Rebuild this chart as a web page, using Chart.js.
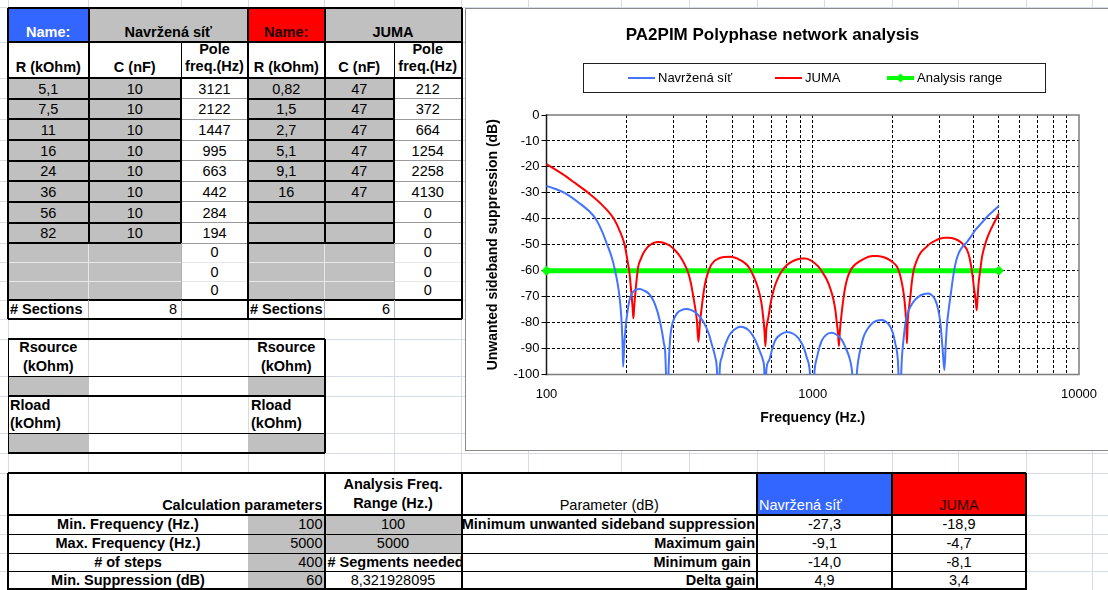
<!DOCTYPE html>
<html>
<head>
<meta charset="utf-8">
<title>PA2PIM Polyphase network analysis</title>
<script src="https://cdn.jsdelivr.net/npm/chart.js@4.4.1/dist/chart.umd.min.js"></script>
<style>
  html, body { margin: 0; padding: 0; background: #fff; }
  body {
    width: 1108px; height: 590px; overflow: hidden; position: relative;
    font-family: "Liberation Sans", Arial, sans-serif; font-size: 14.5px; color: #000;
  }
  #sheet { position: absolute; left: 0; top: 0; width: 1108px; height: 590px; }
  #chartBox {
    position: absolute; left: 465px; top: 8px; width: 646px; height: 443px;
    box-sizing: border-box; border: 1px solid #8a8a8a; background: #fff;
  }
  #chartWrap { position: absolute; left: 0; top: 0; width: 644px; height: 441px; }
</style>
</head>
<body>
<div id="sheet"></div>
<div id="chartBox"><div id="chartWrap"><canvas id="plot"></canvas></div></div>

<script>
// ---------------- data ----------------
// RC sections of the two networks
const navrR    = ['5,1', '7,5', '11', '16', '24', '36', '56', '82'];
const navrC    = ['10', '10', '10', '10', '10', '10', '10', '10'];
const navrPole = [3121, 2122, 1447, 995, 663, 442, 284, 194];
const jumaR    = ['0,82', '1,5', '2,7', '5,1', '9,1', '16'];
const jumaC    = ['47', '47', '47', '47', '47', '47'];
const jumaPole = [212, 372, 664, 1254, 2258, 4130];

// calculation parameters
const calcLabels  = ['Min. Frequency (Hz.)', 'Max. Frequency (Hz.)', '# of steps', 'Min. Suppression (dB)'];
const calcValues  = ['100', '5000', '400', '60'];
const rangeValues = ['100', '5000', '# Segments needed', '8,321928095'];

// results
const paramLabels = ['Minimum unwanted sideband suppression', 'Maximum gain', 'Minimum gain ', 'Delta gain'];
const navrResults = [-27.3, -9.1, -14.0, 4.9];
const jumaResults = [-18.9, -4.7, -8.1, 3.4];

// unwanted sideband suppression, Navržená síť (Hz / dB)
const navrFreq = [
  100, 108, 117, 133, 146, 153, 162, 169, 176, 181, 185, 188, 191, 193, 194,
  196, 199, 202, 205, 210, 215, 224, 233, 242, 252, 260, 266, 271, 276, 279, 284,
  289, 292, 297, 303, 310, 320, 335, 350, 365, 378, 392, 406, 418, 430, 436, 442,
  448, 456, 466, 476, 490, 504, 520, 534, 550, 574, 595, 616, 635, 650, 657, 663,
  670, 686, 705, 723, 760, 800, 845, 885, 923, 950, 972, 995,
  1018, 1038, 1060, 1083, 1130, 1180, 1235, 1288, 1330, 1370, 1400, 1440,
  1470, 1490, 1520, 1552, 1610, 1670, 1740, 1820, 1890, 1955, 2000, 2041, 2088, 2122,
  2163, 2195, 2228, 2270, 2326, 2400, 2500, 2600, 2723, 2810, 2887, 2960, 3016, 3076, 3121,
  3160, 3196, 3240, 3289, 3383, 3450, 3531, 3650, 3799, 3950, 4083, 4300, 4517, 4750, 5000
];
const navrDb = [
  -27.3, -28.5, -30, -34, -37.5, -40, -45, -50, -55, -60, -65, -70, -78, -88, -97,
  -88, -80, -75, -71.3, -68.5, -67.5, -67.1, -67.7, -68.8, -71.5, -75.2, -79, -83, -88, -91, -110,
  -92, -85, -80.5, -78, -76.3, -75.3, -74.8, -75.2, -76.3, -78, -80.5, -84, -88.5, -93.2, -97, -110,
  -97, -93.2, -89.5, -86.8, -84.3, -82.9, -82, -81.6, -81.8, -82.9, -85, -88, -91.5, -94.5, -97.5, -110,
  -98, -94.5, -90, -86.8, -84.5, -83.6, -84.3, -86.1, -89.4, -93.5, -97.5, -110,
  -97.5, -93.2, -89.5, -86.8, -84.5, -83.9, -84.8, -86.8, -89.8, -93.2, -97.5, -110,
  -97.5, -93.2, -89, -85.5, -82.3, -80.3, -79.3, -79, -79.8, -81.6, -84, -88, -94.5, -110,
  -93.2, -86, -80.3, -76.5, -73.9, -71.7, -70, -69.1, -68.8, -69.6, -71.3, -75, -80.3, -90.6, -98.3,
  -88, -80.3, -75, -70, -61, -56.5, -53.3, -50.8, -48.9, -46.5, -44.3, -41.7, -39.2, -37.1, -35.1
];

// unwanted sideband suppression, JUMA (Hz / dB)
const jumaFreq = [
  100, 104, 115, 126, 143.5, 163, 179, 189, 196.5, 201, 205, 208.5, 210.5, 212,
  213.5, 215, 218, 221, 226, 231, 238, 245, 254, 263, 275, 291, 305, 318, 330, 341, 349, 356, 362, 367, 372,
  377, 383, 389, 394, 402, 412, 425, 443, 465, 490, 512, 534, 555, 574, 592, 608, 622, 635, 645, 653, 659, 664,
  669, 675, 682, 692, 703, 720, 744, 770, 800, 835, 872, 910, 937, 979, 1015, 1052, 1090, 1131, 1165, 1197, 1217, 1232, 1245, 1254,
  1265, 1288, 1305, 1325, 1350, 1384, 1430, 1487, 1550, 1621, 1680, 1742, 1820, 1900, 1990, 2073, 2125, 2163, 2200, 2228, 2245, 2258,
  2275, 2300, 2326, 2355, 2393, 2460, 2535, 2650, 2765, 2890, 3016, 3130, 3242, 3420, 3585, 3700, 3800, 3880, 3937, 3990, 4027, 4080, 4110, 4130,
  4160, 4197, 4260, 4325, 4430, 4540, 4660, 4786, 4900, 5000
];
const jumaDb = [
  -18.9, -20, -22.8, -25.7, -30, -35, -40, -45, -50, -55.5, -61, -69, -74, -78.4,
  -74, -70, -63.5, -58.5, -55.5, -53.3, -51.3, -50.1, -49.2, -48.9, -49.2, -50.4, -52.3, -54.6, -57.5, -61, -65, -70, -74.5, -79, -87.4,
  -80, -74, -68.5, -65, -61.5, -58.5, -56.5, -55.3, -54.7, -54.6, -55, -55.9, -57, -58.5, -61, -63.6, -66.5, -70, -74, -79, -83.5, -89.1,
  -83, -80, -77.8, -73.5, -70, -66, -62.4, -59.8, -57.8, -56.5, -55.7, -55.3, -55.3, -55.9, -57, -58.5, -60.8, -63.6, -67, -71.3, -75.5, -80.3, -84.5, -89,
  -83, -75.2, -70.5, -66.2, -62.8, -60, -58, -56.6, -55.5, -54.6, -54.3, -54.3, -54.6, -55.3, -56.6, -58.5, -61.5, -64.9, -69.5, -75.2, -81, -88,
  -79, -74, -70, -64.5, -59.8, -56, -53.3, -51.2, -49.5, -48.4, -47.6, -47.3, -47.3, -47.8, -48.9, -50.3, -52.1, -55, -58.5, -62.5, -66.2, -70.5, -73.5, -75.2,
  -70.5, -64.9, -59.5, -54.6, -50.2, -46.9, -44.2, -41.8, -39.7, -37.9
];

// analysis range line
const rangeFreq = [100, 5000];
const rangeDb   = [-60, -60];

// frequency axis grid and labels
const xGridValues = [100, 200, 300, 400, 500, 600, 700, 800, 900,
                     1000, 2000, 3000, 4000, 5000, 6000, 7000, 8000, 9000, 10000];
const xLabelled   = [100, 1000, 10000];

// ---------------- worksheet ----------------
const BLUE_CELL = '#3366ff', RED_CELL = '#ff0000', GRAY = '#c0c0c0', GRIDLINE = '#d6dce6';
const sheet = document.getElementById('sheet');

function el(x0, y0, x1, y1, css) {
  const d = document.createElement('div');
  d.style.cssText = 'position:absolute;left:' + x0 + 'px;top:' + y0 + 'px;width:' + (x1 - x0) +
                    'px;height:' + (y1 - y0) + 'px;' + (css || '');
  sheet.appendChild(d);
  return d;
}
function fill(x0, y0, x1, y1, color) { el(x0, y0, x1, y1, 'background:' + color); }
function hl(x0, x1, y, w, c) { el(x0, y - w / 2, x1, y + w / 2, 'background:' + (c || '#000')); }
function vl(x, y0, y1, w, c) { el(x - w / 2, y0, x + w / 2, y1, 'background:' + (c || '#000')); }
function txt(x0, y0, x1, y1, s, o) {
  o = o || {};
  const d = el(x0, y0, x1, y1, 'display:flex;overflow:hidden;box-sizing:border-box;');
  d.style.alignItems = 'flex-end';
  d.style.justifyContent = o.a === 'left' ? 'flex-start' : (o.a === 'right' ? 'flex-end' : 'center');
  d.style.padding = '0 ' + (o.pr != null ? o.pr : 3) + 'px ' + (o.pb != null ? o.pb : 2) + 'px ' +
                    (o.pl != null ? o.pl : 3) + 'px';
  const sp = document.createElement('span');
  sp.textContent = s;
  sp.style.cssText = 'white-space:pre;flex-shrink:0;line-height:' + (o.lh || 16) + 'px;text-align:' +
                     (o.a || 'center') + ';font-weight:' + (o.b ? 'bold' : 'normal') + ';color:' + (o.c || '#000') + ';';
  d.appendChild(sp);
}
const dec = v => v.toFixed(1).replace('.', ',');

// spreadsheet gridlines
const GX = [8, 88.5, 181, 248, 324.5, 394, 461.5, 528, 621, 689, 757, 824, 892, 958, 1026, 1092];
const GY = [7.5, 42, 78, 98.5, 119, 140, 160.5, 181, 201.5, 222.5, 243, 262, 281.5, 300, 319,
            339, 376, 396, 433, 453, 473, 515, 534, 553, 571.5];
GX.forEach(x => vl(x, 0, 590, 1, GRIDLINE));
GY.forEach(y => hl(0, 1108, y, 1, GRIDLINE));

// ---- RC sections table ----
const TX = [8, 88.5, 181, 248, 324.5, 394, 461.5];
const TY = [7.5, 42, 78, 98.5, 119, 140, 160.5, 181, 201.5, 222.5, 243, 262, 281.5, 300, 319];
fill(TX[0], TY[0], TX[6], TY[14], '#fff');
fill(TX[0], TY[0], TX[1], TY[1], BLUE_CELL);
fill(TX[1], TY[0], TX[3], TY[1], GRAY);
fill(TX[3], TY[0], TX[4], TY[1], RED_CELL);
fill(TX[4], TY[0], TX[6], TY[1], GRAY);
for (let r = 0; r < 11; r++) {
  fill(TX[0], TY[2 + r], TX[2], TY[3 + r], GRAY);
  fill(TX[3], TY[2 + r], TX[5], TY[3 + r], GRAY);
}
// light separators in the data block
for (let r = 0; r < 12; r++) {
  hl(TX[0], TX[6], TY[2 + r], 1, r >= 9 ? '#e8e8e8' : '#9a9a9a');
}
[TX[1], TX[4]].forEach(x => vl(x, TY[10], TY[13], 1, '#e8e8e8'));
[TX[2], TX[5]].forEach(x => vl(x, TY[10], TY[13], 1, '#b0b0b0'));
// boxed input cells
for (let r = 0; r < 8; r++) {
  [[TX[0], TX[2]], [TX[3], TX[5]]].forEach(([a, b]) => {
    hl(a, b, TY[2 + r], 2);
    hl(a, b, TY[3 + r], 2);
  });
  [TX[1], TX[2], TX[4], TX[5]].forEach(x => vl(x, TY[2 + r], TY[3 + r], 2));
}
// header lines
[TX[1], TX[4]].forEach(x => vl(x, TY[0], TY[2], 2));
[TX[2], TX[5]].forEach(x => vl(x, TY[1], TY[2], 1));
hl(TX[0], TX[6], TY[1], 2);
hl(TX[0], TX[6], TY[2], 1.5);
hl(TX[0], TX[6], TY[13], 1.5);
vl(TX[1], TY[13], TY[14], 1, '#b0b0b0');
vl(TX[4], TY[13], TY[14], 1, '#b0b0b0');
vl(TX[2], TY[13], TY[14], 1, '#b0b0b0');
vl(TX[5], TY[13], TY[14], 1, '#b0b0b0');
// outer frame and centre divider
hl(TX[0], TX[6], TY[0], 2); hl(TX[0], TX[6], TY[14], 2);
vl(TX[0], TY[0], TY[14], 2); vl(TX[6], TY[0], TY[14], 2); vl(TX[3], TY[0], TY[14], 2);

txt(TX[0], TY[0], TX[1], TY[1], 'Name:', { b: true, c: '#fff' });
txt(TX[1], TY[0], TX[3], TY[1], 'Navržená síť', { b: true });
txt(TX[3], TY[0], TX[4], TY[1], 'Name:', { b: true, c: '#1c0000' });
txt(TX[4], TY[0], TX[6], TY[1], 'JUMA', { b: true });
[0, 3].forEach(k => {
  txt(TX[k], TY[1], TX[k + 1], TY[2], 'R (kOhm)', { b: true, pb: 3, pl: 1, pr: 1 });
  txt(TX[k + 1], TY[1], TX[k + 2], TY[2], 'C (nF)', { b: true, pb: 3 });
  txt(TX[k + 2], TY[1], TX[k + 3], TY[2], 'Pole\nfreq.(Hz)', { b: true, lh: 17, pb: 3, pl: 0, pr: 0 });
});
for (let r = 0; r < 11; r++) {
  const y0 = TY[2 + r], y1 = TY[3 + r];
  if (r < navrR.length) {
    txt(TX[0], y0, TX[1], y1, navrR[r]);
    txt(TX[1], y0, TX[2], y1, navrC[r]);
  }
  txt(TX[2], y0, TX[3], y1, String(r < navrPole.length ? navrPole[r] : 0));
  if (r < jumaR.length) {
    txt(TX[3], y0, TX[4], y1, jumaR[r]);
    txt(TX[4], y0, TX[5], y1, jumaC[r]);
  }
  txt(TX[5], y0, TX[6], y1, String(r < jumaPole.length ? jumaPole[r] : 0));
}
txt(TX[0], TY[13], TX[1] + 20, TY[14], '# Sections', { b: true, a: 'left', pl: 2 });
txt(TX[1], TY[13], TX[2], TY[14], String(navrR.length), { a: 'right', pr: 4 });
txt(TX[3], TY[13], TX[4] + 20, TY[14], '# Sections', { b: true, a: 'left', pl: 2 });
txt(TX[4], TY[13], TX[5], TY[14], String(jumaR.length), { a: 'right', pr: 4 });

// ---- source / load resistance block ----
const RY = [339, 376, 396, 433, 453];
fill(8, RY[1], 88.5, RY[2], GRAY); fill(248, RY[1], 324.5, RY[2], GRAY);
fill(8, RY[3], 88.5, RY[4], GRAY); fill(248, RY[3], 324.5, RY[4], GRAY);
hl(8, 324.5, RY[0], 2); hl(8, 324.5, RY[2], 2); hl(8, 324.5, RY[4], 2);
hl(8, 324.5, RY[1], 1); hl(8, 324.5, RY[3], 1);
vl(324.5, RY[0], RY[4], 2); vl(8, RY[0], RY[4], 1);
txt(8, RY[0], 88.5, RY[1], 'Rsource\n(kOhm)', { b: true, lh: 19, pb: 0, pl: 0, pr: 0 });
txt(248, RY[0], 324.5, RY[1], 'Rsource\n(kOhm)', { b: true, lh: 19, pb: 0, pl: 0, pr: 0 });
txt(8, RY[2], 120, RY[3], 'Rload\n(kOhm)', { b: true, a: 'left', lh: 18, pb: 1, pl: 2 });
txt(248, RY[2], 324.5, RY[3], 'Rload\n(kOhm)', { b: true, a: 'left', lh: 18, pb: 1, pl: 3 });

// ---- parameters / results table ----
const BX = [8, 248, 324.5, 461.5, 757, 892, 1026];
const BY = [473, 515, 534, 553, 571.5, 590];
fill(BX[0], BY[0], BX[6], BY[5], '#fff');
fill(BX[4], BY[0], BX[5], BY[1], BLUE_CELL);
fill(BX[5], BY[0], BX[6], BY[1], RED_CELL);
fill(BX[1], BY[1], BX[2], BY[5], GRAY);
fill(BX[2], BY[1], BX[3], BY[3], GRAY);
[BY[2], BY[3], BY[4]].forEach(y => hl(BX[0], BX[6], y, 1));
hl(BX[0], BX[6], BY[0], 2.5); hl(BX[0], BX[6], BY[1], 2); hl(BX[0], BX[6], 589, 2);
vl(BX[0], BY[0], BY[5], 2);
[BX[2], BX[3], BX[4], BX[5], BX[6]].forEach(x => vl(x, BY[0], BY[5], 2));

txt(BX[0], BY[0], BX[2], BY[1], 'Calculation parameters', { b: true, a: 'right', pr: 2 });
txt(BX[2], BY[0], BX[3], BY[1], 'Analysis Freq.\nRange (Hz.)', { b: true, lh: 19 });
txt(BX[3], BY[0], BX[4], BY[1], 'Parameter (dB)');
txt(BX[4], BY[0], BX[5], BY[1], 'Navržená síť', { a: 'left', c: '#fff', pl: 2 });
txt(BX[5], BY[0], BX[6], BY[1], 'JUMA', { c: '#1c0000' });
for (let r = 0; r < 4; r++) {
  const y0 = BY[1 + r], y1 = BY[2 + r];
  txt(BX[0], y0, BX[1], y1, calcLabels[r], { b: true });
  txt(BX[1], y0, BX[2], y1, calcValues[r], { a: 'right', pr: 2 });
  if (r === 2) txt(BX[2], y0, BX[3], y1, rangeValues[r], { b: true, a: 'left', pl: 3 });
  else txt(BX[2], y0, BX[3], y1, rangeValues[r]);
  txt(BX[3], y0, BX[4], y1, paramLabels[r], { b: true, a: 'right', pr: 2, pl: 0 });
  txt(BX[4], y0, BX[5], y1, dec(navrResults[r]));
  txt(BX[5], y0, BX[6], y1, dec(jumaResults[r]));
}

// ---------------- chart ----------------
const FONT = '"Liberation Sans", Arial, sans-serif';
Chart.defaults.font.family = FONT;
Chart.defaults.color = '#000';

const LINE_BLUE = '#4373ff', LINE_RED = '#ff0000', LINE_GREEN = '#00ff00';
const pts = (xs, ys) => xs.map((x, i) => ({ x: x, y: ys[i] }));

// plot-area frame drawn under the curves
const plotFrame = {
  id: 'plotFrame',
  beforeDatasetsDraw(chart) {
    const { ctx, chartArea: a } = chart;
    ctx.save();
    ctx.lineWidth = 1.5;
    ctx.strokeStyle = '#7c7c7c';
    ctx.beginPath();
    ctx.moveTo(a.left, a.top); ctx.lineTo(a.right, a.top);
    ctx.lineTo(a.right, a.bottom); ctx.lineTo(a.left, a.bottom);
    ctx.stroke();
    ctx.strokeStyle = '#1a1a1a';
    ctx.beginPath();
    ctx.moveTo(a.left, a.top - 0.75); ctx.lineTo(a.left, a.bottom + 0.75);
    ctx.stroke();
    ctx.restore();
  }
};

// boxed legend between the title and the plot
const boxLegend = {
  id: 'boxLegend',
  afterDraw(chart, args, o) {
    const ctx = chart.ctx;
    ctx.save();
    ctx.strokeStyle = '#202020';
    ctx.lineWidth = 1;
    ctx.strokeRect(o.left + 0.5, o.top + 0.5, o.width, o.height);
    const cy = o.top + o.height / 2 + 0.5;
    ctx.font = '13px ' + FONT;
    ctx.textBaseline = 'middle';
    chart.data.datasets.forEach((ds, i) => {
      const x = o.itemX[i];
      ctx.strokeStyle = ds.borderColor;
      ctx.lineWidth = Math.min(ds.borderWidth, 4);
      ctx.beginPath(); ctx.moveTo(x, cy); ctx.lineTo(x + o.sample, cy); ctx.stroke();
      if (ds.pointRadius) {
        const mx = x + o.sample / 2, r = ds.pointRadius;
        ctx.fillStyle = ds.pointBackgroundColor;
        ctx.beginPath();
        ctx.moveTo(mx, cy - r); ctx.lineTo(mx + r, cy); ctx.lineTo(mx, cy + r); ctx.lineTo(mx - r, cy);
        ctx.closePath(); ctx.fill();
      }
      ctx.fillStyle = '#000';
      ctx.fillText(ds.label, x + o.sample + 3, cy);
    });
    ctx.restore();
  }
};

new Chart(document.getElementById('plot'), {
  type: 'line',
  data: {
    datasets: [
      {
        label: 'Navržená síť', data: pts(navrFreq, navrDb),
        borderColor: LINE_BLUE, borderWidth: 2, pointRadius: 0,
        cubicInterpolationMode: 'monotone', clip: { left: 4, right: 4, top: 4, bottom: 0 }
      },
      {
        label: 'JUMA', data: pts(jumaFreq, jumaDb),
        borderColor: LINE_RED, borderWidth: 2, pointRadius: 0,
        cubicInterpolationMode: 'monotone', clip: { left: 4, right: 4, top: 4, bottom: 0 }
      },
      {
        label: 'Analysis range', data: pts(rangeFreq, rangeDb),
        borderColor: LINE_GREEN, borderWidth: 5, pointStyle: 'rectRot', pointRadius: 4.5,
        pointBackgroundColor: LINE_GREEN, pointBorderColor: LINE_GREEN, pointBorderWidth: 1,
        clip: false
      }
    ]
  },
  options: {
    responsive: true,
    maintainAspectRatio: false,
    animation: false,
    events: [],
    layout: { padding: { left: 0, right: 31, top: 0, bottom: 0 } },
    plugins: {
      legend: { display: false },
      tooltip: { enabled: false },
      title: {
        display: true, text: 'PA2PIM Polyphase network analysis', color: '#000',
        font: { size: 17, weight: 'bold' }, padding: { top: 15.8, bottom: 69.8 }
      },
      boxLegend: { left: 117, top: 54, width: 462, height: 29, itemX: [162, 309, 421], sample: 27 }
    },
    scales: {
      x: {
        type: 'logarithmic', min: 100, max: 10000,
        afterBuildTicks: s => { s.ticks = xGridValues.map(v => ({ value: v })); },
        afterFit: s => { s.height = 75.5; },
        ticks: {
          autoSkip: false, maxRotation: 0, minRotation: 0, padding: 12.5,
          font: { size: 13 }, color: '#000',
          callback: v => (xLabelled.includes(v) ? String(v) : '')
        },
        grid: {
          color: c => (c.tick && (c.tick.value === 100 || c.tick.value === 10000)) ? 'rgba(0,0,0,0)' : '#000',
          lineWidth: 1, drawTicks: false
        },
        border: { display: false, dash: [3, 2] },
        title: {
          display: true, text: 'Frequency (Hz.)', color: '#000',
          font: { size: 14, weight: 'bold' }, padding: { top: 0, bottom: 23.6 }
        }
      },
      y: {
        min: -100, max: 0,
        afterFit: s => { s.width = 80.5; },
        ticks: { stepSize: 10, padding: 2, font: { size: 13 }, color: '#000', callback: v => String(v) },
        grid: {
          color: c => (c.tick && (c.tick.value === 0 || c.tick.value === -100)) ? 'rgba(0,0,0,0)' : '#000',
          tickColor: '#000', tickLength: 5, lineWidth: 1
        },
        border: { display: false, dash: [3, 2] },
        title: {
          display: true, text: 'Unwanted sideband suppression (dB)', color: '#000',
          font: { size: 14, weight: 'bold' }, padding: { top: 18.3, bottom: 0 }
        }
      }
    }
  },
  plugins: [plotFrame, boxLegend]
});
</script>
</body>
</html>
